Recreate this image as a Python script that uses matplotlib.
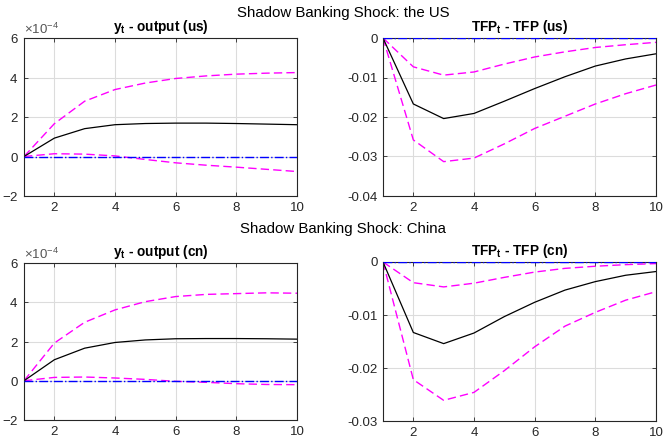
import numpy as np
import matplotlib
matplotlib.use("Agg")
import matplotlib.pyplot as plt
from matplotlib.ticker import ScalarFormatter

plt.rcParams['font.family'] = ['Liberation Sans', 'DejaVu Sans']
plt.rcParams['mathtext.fontset'] = 'custom'
plt.rcParams['mathtext.rm'] = 'Liberation Sans'
plt.rcParams['mathtext.bf'] = 'Liberation Sans:bold'
plt.rcParams['mathtext.it'] = 'Liberation Sans:italic'

periods = np.arange(1, 11)

# US output (units of 1e-4)
us_y_med = np.array([0, 0.93, 1.41, 1.61, 1.67, 1.69, 1.69, 1.67, 1.64, 1.61]) * 1e-4
us_y_up = np.array([0, 1.66, 2.80, 3.39, 3.72, 3.95, 4.08, 4.17, 4.22, 4.25]) * 1e-4
us_y_lo = np.array([0, 0.14, 0.12, 0.03, -0.15, -0.32, -0.44, -0.54, -0.65, -0.76]) * 1e-4

# US TFP
us_tfp_med = np.array([0, -0.0167, -0.0204, -0.0191, -0.0160, -0.0128, -0.0098, -0.0071, -0.0053, -0.0040])
us_tfp_up = np.array([0, -0.0073, -0.0094, -0.0086, -0.0066, -0.0048, -0.0035, -0.0024, -0.0017, -0.0011])
us_tfp_lo = np.array([0, -0.0258, -0.0313, -0.0304, -0.0268, -0.0229, -0.0198, -0.0167, -0.0141, -0.0119])

# China output (units of 1e-4)
cn_y_med = np.array([0, 1.07, 1.66, 1.95, 2.08, 2.14, 2.15, 2.15, 2.14, 2.12]) * 1e-4
cn_y_up = np.array([0, 1.92, 2.98, 3.61, 4.03, 4.29, 4.40, 4.44, 4.48, 4.46]) * 1e-4
cn_y_lo = np.array([0, 0.17, 0.19, 0.14, 0.07, -0.03, -0.08, -0.15, -0.19, -0.20]) * 1e-4

# China TFP
cn_tfp_med = np.array([0, -0.0133, -0.0154, -0.0134, -0.0103, -0.0076, -0.0053, -0.0037, -0.0025, -0.0018])
cn_tfp_up = np.array([0, -0.0039, -0.0047, -0.0040, -0.0029, -0.0019, -0.0012, -0.0008, -0.0005, -0.0003])
cn_tfp_lo = np.array([0, -0.0222, -0.0261, -0.0246, -0.0205, -0.0160, -0.0121, -0.0095, -0.0072, -0.0056])

x_ticks = [2, 4, 6, 8, 10]
output_ticks = [-2e-4, 0, 2e-4, 4e-4, 6e-4]
us_tfp_ticks = [-0.04, -0.03, -0.02, -0.01, 0]
cn_tfp_ticks = [-0.03, -0.02, -0.01, 0]
us_tfp_labels = ['-0.04', '-0.03', '-0.02', '-0.01', '0']
cn_tfp_labels = ['-0.03', '-0.02', '-0.01', '0']

titles = [r'y$_\mathbf{t}$ - output (us)', r'TFP$_\mathbf{t}$ - TFP (us)',
          r'y$_\mathbf{t}$ - output (cn)', r'TFP$_\mathbf{t}$ - TFP (cn)']
suptitles = ['Shadow Banking Shock: the US', 'Shadow Banking Shock: China']

W, H = 665, 440
fig = plt.figure(figsize=(W / 100, H / 100), dpi=100)

def rect(l, r, t, b):
    return [l / W, 1 - b / H, (r - l) / W, (b - t) / H]

rects = [rect(24, 297, 38, 196), rect(383, 656, 38, 196),
         rect(24, 297, 263, 420), rect(383, 656, 262, 421)]
data = [(us_y_med, us_y_up, us_y_lo), (us_tfp_med, us_tfp_up, us_tfp_lo),
        (cn_y_med, cn_y_up, cn_y_lo), (cn_tfp_med, cn_tfp_up, cn_tfp_lo)]
ylims = [(-2e-4, 6e-4), (-0.04, 0), (-2e-4, 6e-4), (-0.03, 0)]
yticks = [output_ticks, us_tfp_ticks, output_ticks, cn_tfp_ticks]
ylabels = [None, us_tfp_labels, None, cn_tfp_labels]

tick_col = '#262626'
for i, (r, (med, up, lo)) in enumerate(zip(rects, data)):
    ax = fig.add_axes(r)
    ax.plot(periods, np.zeros(len(periods)), color='#0000ff', linestyle='-.', lw=1.0, zorder=3)
    ax.plot(periods, up, color='#ff00ff', linestyle=(0, (6, 3)), lw=1.0)
    ax.plot(periods, lo, color='#ff00ff', linestyle=(0, (6, 3)), lw=1.0)
    ax.plot(periods, med, color='black', lw=0.9)
    ax.set_xlim(1, 10)
    ax.set_ylim(*ylims[i])
    ax.set_xticks(x_ticks)
    ax.set_yticks(yticks[i])
    ax.grid(True, color='#dcdcdc', lw=0.8)
    ax.set_axisbelow(True)
    ax.tick_params(direction='in', length=3, labelsize=9.5, colors=tick_col, top=True, right=True,
                   width=0.6, pad=4)
    for s in ax.spines.values():
        s.set_color('#262626')
        s.set_linewidth(0.8)
    if ylabels[i] is None:
        fmt = ScalarFormatter(useMathText=True)
        fmt.set_powerlimits((-3, 3))
        ax.yaxis.set_major_formatter(fmt)
        ax.yaxis.get_offset_text().set_fontsize(9.5)
        ax.yaxis.get_offset_text().set_color('#555555')
    else:
        ax.set_yticklabels(ylabels[i])
    ax.set_title(titles[i], fontsize=9.8, fontweight='bold', pad=5)

fig.text(343 / W, 1 - 13 / H, suptitles[0], ha='center', va='center', fontsize=10.8)
fig.text(343 / W, 1 - 229 / H, suptitles[1], ha='center', va='center', fontsize=10.8)

fig.savefig('out.png', dpi=100)
